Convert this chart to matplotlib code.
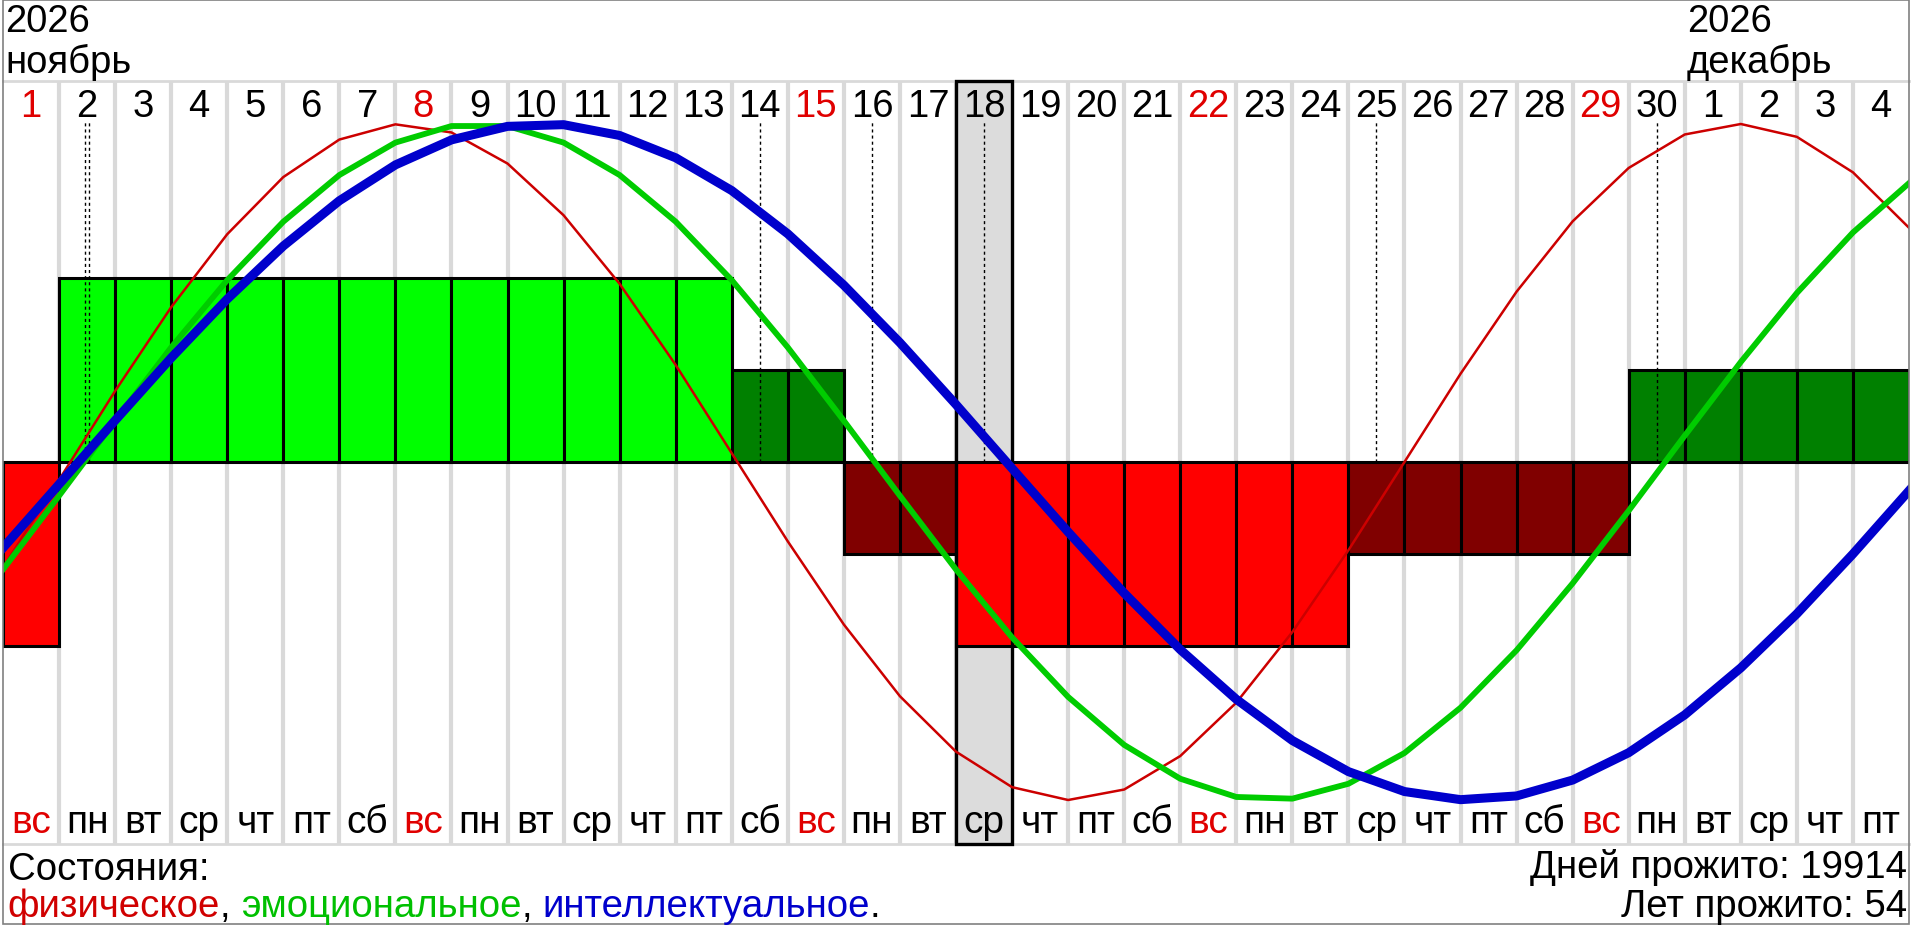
import matplotlib
matplotlib.use("Agg")
import matplotlib.pyplot as plt
from matplotlib.patches import Rectangle
from collections import Counter

plt.rcParams['font.family'] = ['Liberation Sans', 'DejaVu Sans']

# ---------------- data ----------------
year = 2026
month_names = ['ноябрь', 'декабрь']
days = list(range(1, 31)) + [1, 2, 3, 4]
weekdays = ['вс', 'пн', 'вт', 'ср', 'чт', 'пт', 'сб'] * 4 + ['вс', 'пн', 'вт', 'ср', 'чт', 'пт']
# summary state of each day: +2 / +1 / -1 / -2
states = [-2] + [2] * 12 + [1, 1] + [-1, -1] + [-2] * 7 + [-1] * 5 + [1] * 5
selected_day = 18          # 18 ноября
critical_days = [2, 2, 14, 16, 18, 25, 30]
# curve values at the column boundaries (35 points)
physical = [-0.312, -0.053, 0.210, 0.458, 0.674, 0.843, 0.954, 0.999, 0.975, 0.883,
            0.730, 0.527, 0.287, 0.026, -0.235, -0.481, -0.693, -0.857, -0.962, -1.000,
            -0.969, -0.870, -0.712, -0.503, -0.261, 0.000, 0.261, 0.504, 0.712, 0.870,
            0.969, 1.000, 0.962, 0.857, 0.693]
emotional = [-0.318, -0.100, 0.122, 0.339, 0.538, 0.711, 0.849, 0.945, 0.994, 0.994,
             0.945, 0.849, 0.711, 0.538, 0.339, 0.122, -0.100, -0.318, -0.519, -0.695,
             -0.837, -0.937, -0.991, -0.996, -0.952, -0.861, -0.727, -0.557, -0.359, -0.144,
             0.078, 0.296, 0.500, 0.679, 0.825]
intellectual = [-0.254, -0.066, 0.123, 0.308, 0.482, 0.639, 0.773, 0.879, 0.953, 0.993,
                0.998, 0.966, 0.900, 0.803, 0.675, 0.523, 0.353, 0.170, -0.019, -0.207,
                -0.388, -0.555, -0.702, -0.824, -0.916, -0.975, -0.999, -0.988, -0.941, -0.860,
                -0.748, -0.609, -0.449, -0.272, -0.085]
days_lived = 19914
years_lived = 54

# ---------------- layout ----------------
W, H, DPI = 1920, 928, 100
fig = plt.figure(figsize=(W / DPI, H / DPI), dpi=DPI)
fig.patch.set_facecolor('white')

ZERO_PX, AMP_PX = 463.0, 338.0
TOP_PX, BOT_PX = 82.0, 845.0
LEFT_PX, RIGHT_PX = 3.0, 1909.0

FS_TOP, FS_DAY, FS_WEEK, FSB = 27.5, 27.5, 28, 27.6


def vy(ypx):
    return (ZERO_PX - ypx) / AMP_PX


n = len(days)
ax = fig.add_axes([LEFT_PX / W, (H - BOT_PX) / H, (RIGHT_PX - LEFT_PX) / W, (BOT_PX - TOP_PX) / H])
ax.set_xlim(0, n)
ax.set_ylim(vy(BOT_PX), vy(TOP_PX))
ax.set_axis_off()

SEP = '#d9d9d9'
for k in range(1, n):
    ax.axvline(k, color=SEP, lw=3.0, zorder=0)
for yb in (vy(TOP_PX), vy(BOT_PX)):
    ax.axhline(yb, color=SEP, lw=2.0, zorder=0, clip_on=False)

# selected column
si = selected_day - 1
ylo, yhi = vy(BOT_PX), vy(TOP_PX)
ax.add_patch(Rectangle((si, ylo), 1, yhi - ylo, facecolor='#dcdcdc', edgecolor='none', zorder=0.5))

# state bars
step = 0.272
col_map = {2: '#00ff00', 1: '#008000', -1: '#800000', -2: '#ff0000'}
xc = [i + 0.5 for i in range(n)]
ax.bar(xc, [s * step for s in states], width=1.0, color=[col_map[s] for s in states],
       edgecolor='black', linewidth=2.2, zorder=2)

ax.add_patch(Rectangle((si, ylo), 1, yhi - ylo, facecolor='none', edgecolor='black',
                       lw=2.4, zorder=2.5, clip_on=False))

# critical day markers
cnt = Counter(critical_days)
for d, c in cnt.items():
    for j in range(c):
        off = (j - (c - 1) / 2) * 0.06
        ax.vlines(d - 0.5 + off, 0, vy(123), colors='black', linestyles=(0, (2.2, 2.2)),
                  lw=1.0, zorder=2.6)

# curves
xs = list(range(n + 1))
ax.plot(xs, physical, color='#cc0000', lw=1.8, zorder=3)
ax.plot(xs, emotional, color='#00cc00', lw=4.2, zorder=3.1)
ax.plot(xs, intellectual, color='#0000cc', lw=6.5, zorder=3.2)

# day numbers and weekdays
RED = '#e00000'
for i in range(n):
    c = RED if weekdays[i] == 'вс' else 'black'
    ax.text(xc[i], vy(117), str(days[i]), ha='center', va='baseline', fontsize=FS_DAY, color=c, zorder=4)
    ax.text(xc[i], vy(833), weekdays[i], ha='center', va='baseline', fontsize=FS_WEEK, color=c, zorder=4)

# month headers
month_starts = [0] + [i for i in range(1, n) if days[i] == 1]
for mi, st in enumerate(month_starts):
    ax.text(st + 0.04, vy(32), str(year), ha='left', va='baseline', fontsize=FS_TOP, clip_on=False)
    ax.text(st + 0.04, vy(73), month_names[mi], ha='left', va='baseline', fontsize=FS_TOP, clip_on=False)

# bottom texts
fig.text(8 / W, 1 - 880 / H, 'Состояния:', ha='left', va='baseline', fontsize=FSB)
fig.text(1907 / W, 1 - 878 / H, f'Дней прожито: {days_lived}', ha='right', va='baseline', fontsize=FSB)
fig.text(1907 / W, 1 - 917 / H, f'Лет прожито: {years_lived}', ha='right', va='baseline', fontsize=FSB)

fig.canvas.draw()
r = fig.canvas.get_renderer()


def wpx(s):
    t = fig.text(0, 0, s, fontsize=FSB)
    w = t.get_window_extent(renderer=r).width
    t.remove()
    return w


space = wpx('a a') - wpx('aa')
parts = [('физическое', '#d00000'), (',', 'black'), ('эмоциональное', '#00c000'), (',', 'black'),
         ('интеллектуальное', '#0000cc'), ('.', 'black')]
x = 7.0
for s, c in parts:
    fig.text(x / W, 1 - 917 / H, s, ha='left', va='baseline', fontsize=FSB, color=c)
    x += wpx(s) + (space if s == ',' else 0)

# frame
fig.patches.append(Rectangle((LEFT_PX / W, (H - 925) / H), (RIGHT_PX - LEFT_PX) / W, 924 / H,
                             transform=fig.transFigure, fill=False, edgecolor='#808080', lw=1.2))

fig.savefig('out.png', dpi=DPI)
